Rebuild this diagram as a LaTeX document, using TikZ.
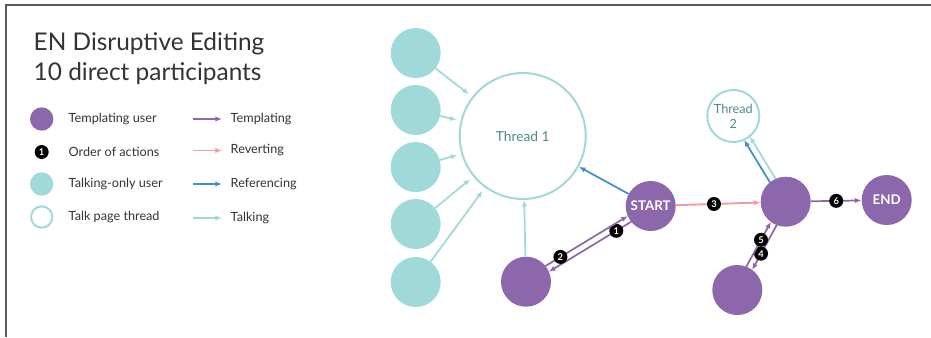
\documentclass[tikz,border=0pt]{standalone}
\usepackage{fontspec}
\setmainfont{Lato}
\usetikzlibrary{arrows.meta,calc}

\definecolor{tplpurple}{RGB}{140,103,171}
\definecolor{talkteal}{RGB}{160,217,217}
\definecolor{revpink}{RGB}{244,154,158}
\definecolor{refblue}{RGB}{63,143,201}
\definecolor{threadtext}{RGB}{78,138,136}
\definecolor{titlegray}{RGB}{51,51,51}
\definecolor{framegray}{RGB}{90,90,90}

\tikzset{
  user/.style={circle,fill=tplpurple,minimum size=37.5pt,inner sep=0pt,text=white,font=\bfseries\fontsize{10}{11}\selectfont},
  talker/.style={circle,fill=talkteal,minimum size=37.5pt,inner sep=0pt},
  thread/.style={circle,draw=talkteal,line width=1.5pt,fill=white,text=threadtext,inner sep=0pt,font=\fontsize{10.3}{11}\selectfont},
  badge/.style={circle,fill=black,text=white,inner sep=0pt,minimum size=10.5pt,font=\bfseries\fontsize{7}{8}\selectfont},
  keytext/.style={anchor=west,text=titlegray,font=\fontsize{9.5}{11}\selectfont},
  titletext/.style={anchor=base west,text=titlegray,font=\fontsize{18.3}{21}\selectfont},
  tpl/.style={draw=tplpurple,line width=1.3pt,-{Latex[length=5pt,width=4pt]}},
  revert/.style={draw=revpink,line width=1.4pt,-{Latex[length=5pt,width=4pt]}},
  refer/.style={draw=refblue,line width=1.3pt,-{Latex[length=5pt,width=4pt]}},
  talk/.style={draw=talkteal,line width=1.3pt,-{Latex[length=5pt,width=4pt]}},
}

\begin{document}
\begin{tikzpicture}[x=0.75pt,y=0.75pt,yscale=-1,xscale=1]
\useasboundingbox (0,0) rectangle (931,337);

%Frame
\draw [framegray, line width=1pt] (931,5) -- (6,5) -- (6,337);

% Title
\node [titletext] (title1) at (29,50) {EN Disruptive Editing};
\node [titletext] (title2) at (29,80) {10 direct participants};

% Legend
\node [user, minimum size=17.5pt] (keyuser) at (41.7,119) {};
\node [badge] (keybadge) at (41.7,152) {1};
\node [talker, minimum size=17.5pt] (keytalker) at (41.7,184) {};
\node [thread, minimum size=16pt] (keythread) at (41.7,217) {};
\node [keytext] (keyuserlbl) at (64,119) {Templating user};
\node [keytext] (keybadgelbl) at (64,152) {Order of actions};
\node [keytext] (keytalkerlbl) at (64,184) {Talking-only user};
\node [keytext] (keythreadlbl) at (64,217) {Talk page thread};

\coordinate (ktplA) at (193,119);    \coordinate (ktplB) at (222,119);
\coordinate (krevA) at (193,150.5);  \coordinate (krevB) at (222,150.5);
\coordinate (krefA) at (193,184);    \coordinate (krefB) at (222,184);
\coordinate (ktalkA) at (193,218);   \coordinate (ktalkB) at (222,218);
\draw [tpl] (ktplA) -- (ktplB);
\draw [revert] (krevA) -- (krevB);
\draw [refer] (krefA) -- (krefB);
\draw [talk] (ktalkA) -- (ktalkB);
\node [keytext] (ktpllbl) at (226,119) {Templating};
\node [keytext] (krevlbl) at (226,150) {Reverting};
\node [keytext] (kreflbl) at (226,184) {Referencing};
\node [keytext] (ktalklbl) at (226,218) {Talking};

% Participants
\node [talker] (talk1) at (415.7,53) {};
\node [talker] (talk2) at (415.7,110) {};
\node [talker] (talk3) at (415.7,167) {};
\node [talker] (talk4) at (415.7,224) {};
\node [talker] (talk5) at (415.7,282) {};
\node [thread, minimum size=94.5pt] (thread1) at (522.7,136) {Thread 1};
\node [user] (start) at (650.7,206) {START};
\node [user] (user2) at (526,281.7) {};
\node [user] (hub) at (785.7,201.7) {};
\node [user] (finish) at (886.7,200) {END};
\node [user] (user3) at (737.3,290) {};
\node [thread, minimum size=39pt, align=center, font=\fontsize{9.5}{11}\selectfont] (thread2) at (733.3,116) {Thread\\2};

% Talking
\foreach \t in {talk1,talk2,talk3,talk4,talk5}
  \draw [talk, shorten >=3pt] (\t) -- (thread1);
\draw [talk] (user2) -- (thread1);

% Referencing and reverting
\draw [refer] (start) -- (thread1);
\draw [revert] (start) -- (hub) node [badge, pos=0.45] {3};

% Templating, in order
\draw [tpl, shorten <=18.5pt, shorten >=18.5pt] ($(start)!2.5pt!-90:(user2)$) -- ($(user2)!2.5pt!90:(start)$) node [badge, pos=0.29] {1};
\draw [tpl, shorten <=18.5pt, shorten >=18.5pt] ($(user2)!2.5pt!-90:(start)$) -- ($(start)!2.5pt!90:(user2)$) node [badge, pos=0.29] {2};
\draw [tpl, shorten <=18.5pt, shorten >=18.5pt] ($(hub)!2.5pt!-90:(user3)$) -- ($(user3)!2.5pt!90:(hub)$) node [badge, pos=0.57] {4};
\draw [tpl, shorten <=18.5pt, shorten >=18.5pt] ($(user3)!2.5pt!-90:(hub)$) -- ($(hub)!2.5pt!90:(user3)$) node [badge, pos=0.55] {5};
\draw [tpl] (hub) -- (finish) node [badge, pos=0.5] {6};

% Thread 2
\draw [refer, shorten <=18.5pt, shorten >=19.5pt] ($(hub)!2.5pt!-90:(thread2)$) -- ($(thread2)!2.5pt!90:(hub)$);
\draw [talk, shorten <=18.5pt, shorten >=19.5pt] ($(hub)!2.5pt!90:(thread2)$) -- ($(thread2)!2.5pt!-90:(hub)$);

\end{tikzpicture}
\end{document}
